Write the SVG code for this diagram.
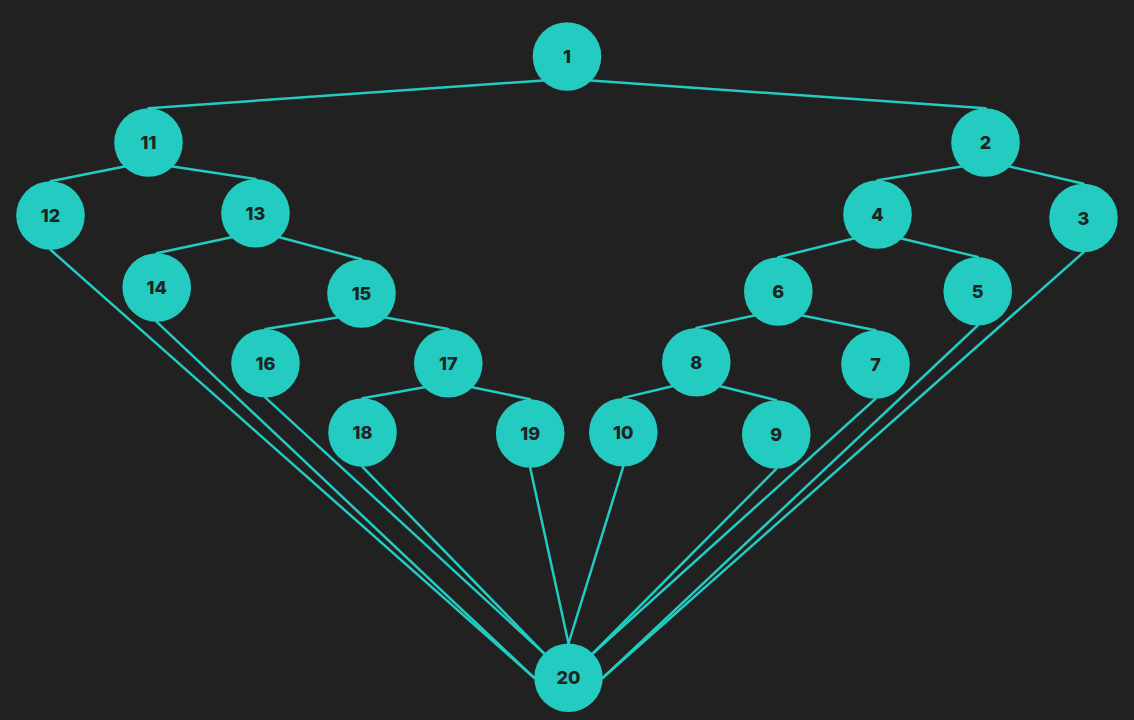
<svg xmlns="http://www.w3.org/2000/svg" width="1134" height="720" viewBox="0 0 1134 720">
<style>
.bg{fill:#212121}
.e{stroke:#24cbc1;stroke-width:2.5;fill:none;stroke-linecap:round}
.n circle{fill:#24cbc1}
.n text{font-family:Inter,"Liberation Sans",sans-serif;font-weight:800;font-size:18px;fill:#1c2424;text-anchor:middle;dominant-baseline:central}
</style>
<rect class="bg" x="0" y="0" width="1134" height="720"/>
<g id="connectors">
<path class="e" d="M543 80.5L148.5 108.3"/>
<path class="e" d="M591 80.5L985.5 108.3"/>
<path class="e" d="M124.5 166.5L50.5 181.2"/>
<path class="e" d="M172.5 166.5L255.5 179"/>
<path class="e" d="M961.5 166.5L877.5 180.2"/>
<path class="e" d="M1009.5 166.5L1083.5 183.7"/>
<path class="e" d="M231.5 237.3L156.7 253.2"/>
<path class="e" d="M279.5 237.3L361.5 259.2"/>
<path class="e" d="M853.5 238.5L778.3 257.2"/>
<path class="e" d="M901.5 238.5L977.7 256.9"/>
<path class="e" d="M337.5 317.5L265.5 329"/>
<path class="e" d="M385.5 317.5L448.3 329"/>
<path class="e" d="M754.3 315.5L696.3 327.9"/>
<path class="e" d="M802.3 315.5L875.5 330.2"/>
<path class="e" d="M424.3 387.3L362.5 398.2"/>
<path class="e" d="M472.3 387.3L530.2 399.2"/>
<path class="e" d="M672.3 386.2L623.3 397.9"/>
<path class="e" d="M720.3 386.2L776.3 400.2"/>
<path class="e" d="M50.5 249.8L534.2 677.8"/>
<path class="e" d="M156.7 321.8L534.2 677.8"/>
<path class="e" d="M265.5 397.6L544.2 653.5"/>
<path class="e" d="M362.5 466.8L544.2 653.5"/>
<path class="e" d="M530.2 467.8L568.5 643.5"/>
<path class="e" d="M623.3 466.5L568.5 643.5"/>
<path class="e" d="M776.3 468.8L592.8 653.5"/>
<path class="e" d="M875.5 398.8L592.8 653.5"/>
<path class="e" d="M977.7 325.5L602.8 677.8"/>
<path class="e" d="M1083.5 252.3L602.8 677.8"/>
</g>
<g id="n1" class="n"><circle cx="567" cy="56.5" r="34.3"/><text x="567" y="56.5">1</text></g>
<g id="n11" class="n"><circle cx="148.5" cy="142.5" r="34.3"/><text x="148.5" y="142.5">11</text></g>
<g id="n2" class="n"><circle cx="985.5" cy="142.5" r="34.3"/><text x="985.5" y="142.5">2</text></g>
<g id="n12" class="n"><circle cx="50.5" cy="215.5" r="34.3"/><text x="50.5" y="215.5">12</text></g>
<g id="n13" class="n"><circle cx="255.5" cy="213.3" r="34.3"/><text x="255.5" y="213.3">13</text></g>
<g id="n4" class="n"><circle cx="877.5" cy="214.5" r="34.3"/><text x="877.5" y="214.5">4</text></g>
<g id="n3" class="n"><circle cx="1083.5" cy="218" r="34.3"/><text x="1083.5" y="218">3</text></g>
<g id="n14" class="n"><circle cx="156.7" cy="287.5" r="34.3"/><text x="156.7" y="287.5">14</text></g>
<g id="n15" class="n"><circle cx="361.5" cy="293.5" r="34.3"/><text x="361.5" y="293.5">15</text></g>
<g id="n6" class="n"><circle cx="778.3" cy="291.5" r="34.3"/><text x="778.3" y="291.5">6</text></g>
<g id="n5" class="n"><circle cx="977.7" cy="291.2" r="34.3"/><text x="977.7" y="291.2">5</text></g>
<g id="n16" class="n"><circle cx="265.5" cy="363.3" r="34.3"/><text x="265.5" y="363.3">16</text></g>
<g id="n17" class="n"><circle cx="448.3" cy="363.3" r="34.3"/><text x="448.3" y="363.3">17</text></g>
<g id="n8" class="n"><circle cx="696.3" cy="362.2" r="34.3"/><text x="696.3" y="362.2">8</text></g>
<g id="n7" class="n"><circle cx="875.5" cy="364.5" r="34.3"/><text x="875.5" y="364.5">7</text></g>
<g id="n18" class="n"><circle cx="362.5" cy="432.5" r="34.3"/><text x="362.5" y="432.5">18</text></g>
<g id="n19" class="n"><circle cx="530.2" cy="433.5" r="34.3"/><text x="530.2" y="433.5">19</text></g>
<g id="n10" class="n"><circle cx="623.3" cy="432.2" r="34.3"/><text x="623.3" y="432.2">10</text></g>
<g id="n9" class="n"><circle cx="776.3" cy="434.5" r="34.3"/><text x="776.3" y="434.5">9</text></g>
<g id="n20" class="n"><circle cx="568.5" cy="677.8" r="34.3"/><text x="568.5" y="677.8">20</text></g>
</svg>
